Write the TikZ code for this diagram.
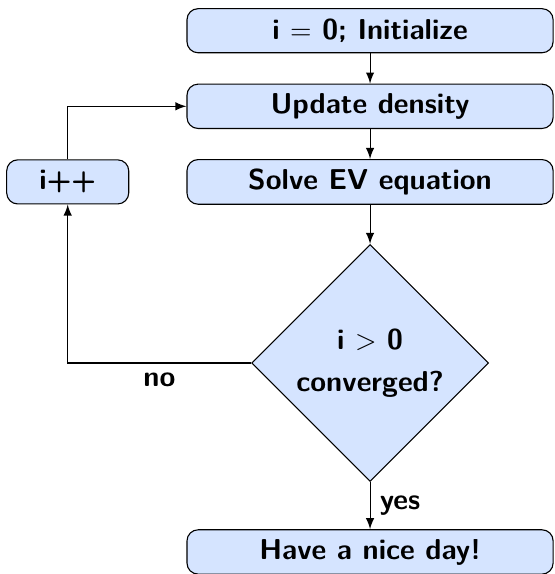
\documentclass[tikz,border=0pt]{standalone}
\usepackage{xcolor}
\usepackage{tikz}
\usetikzlibrary{shapes.geometric, positioning}

\definecolor{boxblue}{RGB}{213,228,255}

\begin{document}
\begin{tikzpicture}[node distance=0.96cm, on grid, auto, >=latex,
        font=\fontsize{10.4pt}{15pt}\selectfont\sffamily\bfseries]
        \tikzset{
            block/.style={rectangle, draw, fill=boxblue, rounded corners,
                minimum width=4.65cm, minimum height=0.56cm},
            decision/.style={diamond, draw, fill=boxblue, aspect=1, align=center,
                inner sep=0pt, minimum width=3.01cm, minimum height=3.01cm}
        }
        \useasboundingbox (-4.70,0.39) rectangle (2.34,-6.90);

        \node[block] (init) {i $=$ 0; Initialize};
        \node[block, below=of init] (update) {Update density};
        \node[block, below=of update] (solve) {Solve EV equation};
        \node[block, left=3.84cm of solve, minimum width=1.55cm] (inc) {i++};
        \node[decision, below=2.30cm of solve] (decide) {i $>$ 0\\converged?};
        \node[block, below=2.40cm of decide] (stop) {Have a nice day!};

        \path[->]
        (init) edge (update)
        (update) edge (solve)
        (solve) edge (decide)
        (decide) edge node {yes} (stop);
        \draw[->] (decide) -| node[near start, below] {no} (inc);
        \draw[->] (inc) |- (update);

    \end{tikzpicture}
\end{document}
